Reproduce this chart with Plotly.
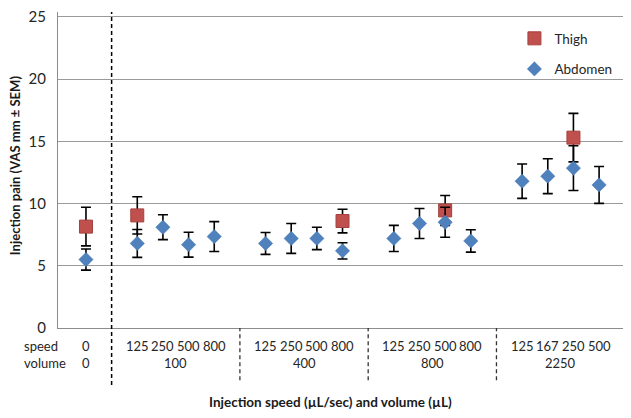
import plotly.graph_objects as go

# ---- data ----
speed_labels = ["0",
                "125", "250", "500", "800",
                "125", "250", "500", "800",
                "125", "250", "500", "800",
                "125", "167", "250", "500"]
volume_labels = ["0", "100", "400", "800", "2250"]
group_sizes = [1, 4, 4, 4, 4]

thigh_mean = [8.15, 9.05, None, None, None, None, None, None, 8.6,
              None, None, 9.45, None, None, None, 15.3, None]
thigh_sem = [1.55, 1.5, None, None, None, None, None, None, 0.95,
             None, None, 1.2, None, None, None, 1.95, None]

abdomen_mean = [5.5, 6.8, 8.1, 6.7, 7.35, 6.8, 7.2, 7.2, 6.2,
                7.2, 8.4, 8.5, 7.0, 11.8, 12.2, 12.85, 11.5]
abdomen_sem = [0.85, 1.12, 1.0, 1.0, 1.2, 0.88, 1.2, 0.9, 0.65,
               1.05, 1.2, 1.2, 0.9, 1.38, 1.4, 1.8, 1.48]

y_ticks = [0, 5, 10, 15, 20, 25]
y_max = 25.4

# ---- positions: one empty slot between groups ----
xpos = []
group_centers = []
dividers = []
pos = 0
for gi, n in enumerate(group_sizes):
    start = pos
    for k in range(n):
        xpos.append(pos)
        pos += 1
    group_centers.append((start + pos - 1) / 2)
    if gi < len(group_sizes) - 1:
        dividers.append(pos)
        pos += 1

tx = [x for x, v in zip(xpos, thigh_mean) if v is not None]
ty = [v for v in thigh_mean if v is not None]
te = [e for e in thigh_sem if e is not None]

FONT = "Lato, 'Open Sans', sans-serif"

fig = go.Figure()
fig.add_trace(go.Scatter(
    x=tx, y=ty, mode="markers", name="Thigh", legendgroup="a",
    marker=dict(symbol="square", size=13, color="#C0504D",
                line=dict(color="#A4403D", width=1)),
    error_y=dict(type="data", array=te, color="black", thickness=1.6, width=5),
))
fig.add_trace(go.Scatter(
    x=xpos, y=abdomen_mean, mode="markers", name="Abdomen", legendgroup="b",
    marker=dict(symbol="diamond", size=11, color="#4F81BD",
                line=dict(color="#4575B0", width=0.5)),
    error_y=dict(type="data", array=abdomen_sem, color="black", thickness=1.6, width=5),
))

shapes = []
shapes.append(dict(type="line", xref="x", yref="paper", x0=dividers[0], x1=dividers[0],
                   y0=-0.18, y1=1.0, line=dict(color="black", width=1.5, dash="4px,3px")))
for d in dividers[1:]:
    shapes.append(dict(type="line", xref="x", yref="paper", x0=d, x1=d,
                       y0=-0.165, y1=0.0, line=dict(color="#333333", width=1.3, dash="4px,3px")))

annotations = []
row_font = dict(family=FONT, size=13, color="#262626")
for x, s in zip(xpos, speed_labels):
    annotations.append(dict(x=x, y=-0.057, xref="x", yref="paper", text=s,
                            showarrow=False, font=row_font, xanchor="center", yanchor="middle"))
for x, v in zip(group_centers, volume_labels):
    annotations.append(dict(x=x, y=-0.1105, xref="x", yref="paper", text=v,
                            showarrow=False, font=row_font, xanchor="center", yanchor="middle"))
annotations.append(dict(x=-0.0635, y=-0.057, xref="paper", yref="paper", text="speed",
                        showarrow=False, font=row_font, xanchor="left", yanchor="middle"))
annotations.append(dict(x=-0.0635, y=-0.1105, xref="paper", yref="paper", text="volume",
                        showarrow=False, font=row_font, xanchor="left", yanchor="middle"))
annotations.append(dict(x=0.48, y=-0.235, xref="paper", yref="paper",
                        text="<b>Injection speed (µL/sec) and volume (µL)</b>",
                        showarrow=False, font=dict(family=FONT, size=13.5, color="#1a1a1a"),
                        xanchor="center", yanchor="middle"))
annotations.append(dict(x=-0.0755, y=0.516, xref="paper", yref="paper",
                        text="<b>Injection pain (VAS mm ± SEM)</b>", textangle=-90,
                        showarrow=False, font=dict(family=FONT, size=13, color="#1a1a1a"),
                        xanchor="center", yanchor="middle"))

fig.update_layout(
    width=631, height=418,
    margin=dict(l=50, r=14, t=4, b=98, autoexpand=False),
    paper_bgcolor="white", plot_bgcolor="white",
    font=dict(family=FONT, color="#262626"),
    showlegend=True,
    legend=dict(x=0.805, y=0.965, xanchor="left", yanchor="top",
                font=dict(family=FONT, size=13.5, color="#262626"),
                bgcolor="rgba(0,0,0,0)", tracegroupgap=10, itemwidth=30),
    shapes=shapes,
    annotations=annotations,
)
fig.update_xaxes(range=[-1.09, 21.01], showgrid=False, zeroline=False,
                 showticklabels=False, ticks="", showline=True, automargin=False,
                 linecolor="#8c8c8c", linewidth=1.2)
fig.update_yaxes(range=[0, y_max], tickvals=y_ticks, showgrid=True, gridcolor="#9a9a9a",
                 gridwidth=1, zeroline=False, showline=True, linecolor="#8c8c8c",
                 linewidth=1.2, ticks="", ticklabelstandoff=8, automargin=False,
                 ticklabeloverflow="allow",
                 tickfont=dict(family=FONT, size=15, color="#262626"))

fig.write_html("out.html")
